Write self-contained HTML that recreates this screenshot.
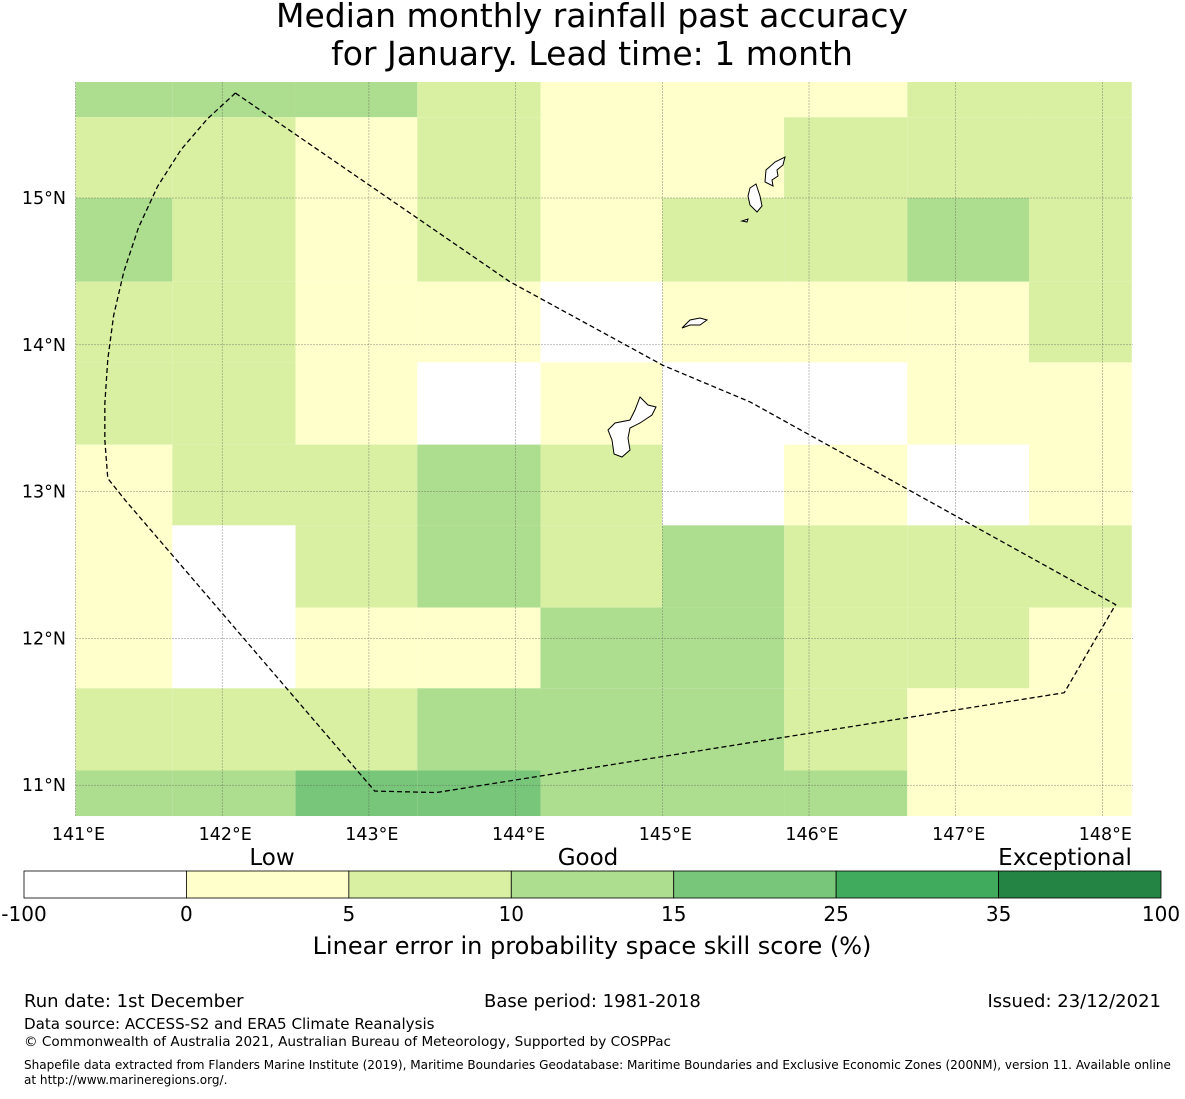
<!DOCTYPE html>
<html><head><meta charset="utf-8"><style>
body{margin:0;background:#fff;font-family:"DejaVu Sans","Liberation Sans",sans-serif;}
svg text{font-family:"DejaVu Sans","Liberation Sans",sans-serif;}
</style></head><body>
<svg id="chart" width="1185" height="1095" xmlns="http://www.w3.org/2000/svg">
<text x="592" y="27" font-size="33" text-anchor="middle">Median monthly rainfall past accuracy</text>
<text x="592" y="65" font-size="33" text-anchor="middle">for January. Lead time: 1 month</text>
<g id="cells"></g>
<g id="grid"></g>
<g fill="#fff" stroke="#000" stroke-width="1">
<path d="M640,397 L648,405 L656,407 L652,415 L640,423 L630,428 L628,438 L630,450 L622,457 L614,454 L612,440 L608,430 L615,423 L630,420 L635,410 Z"/>
<path d="M682,328 L690,320 L700,318 L707,320 L700,325 L690,325 Z"/>
<path d="M766,170 L775,162 L785,157 L783,165 L777,170 L778,176 L772,180 L773,186 L765,182 Z"/>
<path d="M750,188 L756,184 L760,196 L762,206 L757,212 L750,205 L748,196 Z"/>
<path d="M742,221 L748,219 L747,222 Z"/>
</g>
<polygon id="eez" fill="none" stroke="#000" stroke-width="1.3" stroke-dasharray="5,3"></polygon>
<g id="axes"></g>
<g id="cbar"></g>
<text x="272" y="865" font-size="23" text-anchor="middle">Low</text>
<text x="588" y="865" font-size="23" text-anchor="middle">Good</text>
<text x="1065" y="865" font-size="23" text-anchor="middle">Exceptional</text>
<text x="592" y="954" font-size="24" text-anchor="middle">Linear error in probability space skill score (%)</text>
<text x="24" y="1007" font-size="18">Run date: 1st December</text>
<text x="484" y="1007" font-size="18">Base period: 1981-2018</text>
<text x="1161" y="1007" font-size="18" text-anchor="end">Issued: 23/12/2021</text>
<text x="24" y="1029" font-size="15.1">Data source: ACCESS-S2 and ERA5 Climate Reanalysis</text>
<text x="24" y="1046" font-size="13.6">© Commonwealth of Australia 2021, Australian Bureau of Meteorology, Supported by COSPPac</text>
<text x="24" y="1069" font-size="12.06">Shapefile data extracted from Flanders Marine Institute (2019), Maritime Boundaries Geodatabase: Maritime Boundaries and Exclusive Economic Zones (200NM), version 11. Available online</text>
<text x="24" y="1084" font-size="12.06">at http://www.marineregions.org/.</text>
</svg>
<script>
const lonEdges=[141.0,141.66,142.5,143.33,144.17,145.0,145.83,146.67,147.5,148.2];
const latEdges=[15.79,15.55,15.0,14.43,13.88,13.32,12.77,12.21,11.66,11.1,10.79];
const skill=[
[12,12,12,7,3,3,3,7,7],
[7,7,3,7,3,3,7,7,7],
[12,7,3,7,3,7,7,12,7],
[7,7,3,3,-5,3,3,3,7],
[7,7,3,-5,3,-5,-5,3,3],
[3,7,7,12,7,-5,3,-5,3],
[3,-5,7,12,7,12,7,7,7],
[3,-5,3,3,12,12,7,7,3],
[7,7,7,12,12,12,7,3,3],
[12,12,20,20,12,12,12,3,3]];
const lonTicks=[141,142,143,144,145,146,147,148];
const latTicks=[15,14,13,12,11];
const eezLon=[142.09,141.90,141.72,141.56,141.43,141.33,141.26,141.22,141.20,141.20,141.22,141.34,143.04,143.46,147.74,148.09,145.60,145.005,143.96];
const eezLat=[15.715,15.54,15.33,15.08,14.80,14.50,14.20,13.90,13.60,13.35,13.09,12.94,10.96,10.95,11.63,12.23,13.61,13.86,14.43];
const cbBounds=[-100,0,5,10,15,25,35,100];
const cbColors=['#ffffff','#ffffcc','#d9f0a3','#addd8e','#78c679','#41ab5d','#238443'];
const NS='http://www.w3.org/2000/svg';
const px=lon=>75.5+(lon-141)*146.7;
const py=lat=>198+(15-lat)*146.8;
const XR=1133;
function mk(t,a,p){const e=document.createElementNS(NS,t);for(const k in a)e.setAttribute(k,a[k]);p.appendChild(e);return e;}
function col(v){for(let i=cbBounds.length-2;i>=0;i--)if(v>=cbBounds[i])return cbColors[i];return cbColors[0];}
const cellsG=document.getElementById('cells');
skill.forEach((row,r)=>row.forEach((v,c)=>{
 const x0=px(lonEdges[c]),x1=Math.min(XR,px(lonEdges[c+1])),y0=py(latEdges[r]),y1=py(latEdges[r+1]);
 const e=mk('rect',{x:x0,y:y0,width:x1-x0,height:y1-y0,fill:col(v)},cellsG);
 
 
}));
const gridG=document.getElementById('grid'),axesG=document.getElementById('axes');
const mapTop=py(latEdges[0]),mapBot=py(latEdges[latEdges.length-1]);
lonTicks.forEach(l=>{
 const g=mk('line',{x1:px(l),x2:px(l),y1:mapTop,y2:mapBot,stroke:'#555','stroke-width':0.5,'stroke-dasharray':'2,1',opacity:0.7},gridG);
 
 
 const t=mk('text',{x:px(l)+3,y:840,'font-size':17.5,'text-anchor':'middle'},axesG);t.textContent=l+'°E';
 
 
});
latTicks.forEach(l=>{
 const g=mk('line',{x1:76,x2:XR,y1:py(l),y2:py(l),stroke:'#555','stroke-width':0.5,'stroke-dasharray':'2,1',opacity:0.7},gridG);
 
 
 const t=mk('text',{x:66,y:py(l)+6,'font-size':17.5,'text-anchor':'end'},axesG);t.textContent=l+'°N';
 
 
});
document.getElementById('eez').setAttribute('points',eezLon.map((l,i)=>px(l)+','+py(eezLat[i])).join(' '));
const cbG=document.getElementById('cbar');const cw=(1161-24)/cbColors.length;
cbColors.forEach((c,i)=>{
 const e=mk('rect',{x:24+i*cw,y:871,width:cw,height:27,fill:c,stroke:'#000','stroke-width':0.8},cbG);
 
 
});
cbBounds.forEach((b,i)=>{
 const t=mk('text',{x:24+i*cw,y:921,'font-size':20,'text-anchor':'middle'},cbG);t.textContent=b;
 
 
});
</script>
</body></html>
